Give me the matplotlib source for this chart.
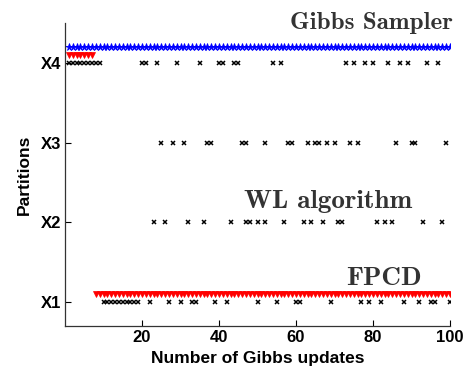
import numpy as np
import matplotlib
matplotlib.use("Agg")
import matplotlib.pyplot as plt

# Gibbs updates 1..100
updates = np.arange(1, 101)

# partition index chosen at each update, per method
gibbs_level = 4.2
fpcd_switch = 8          # FPCD sits near X4 before this update, then near X1
fpcd_high, fpcd_low = 4.1, 1.1

wl_x4 = [1, 2, 3, 4, 5, 6, 7, 8, 9, 20, 21, 24, 29, 35, 40, 41, 44, 45, 54, 56,
         73, 75, 78, 80, 84, 87, 89, 94, 97]
wl_x3 = [25, 28, 31, 37, 38, 46, 47, 52, 58, 59, 63, 65, 66, 68, 70, 74, 76,
         86, 90, 91, 99]
wl_x2 = [23, 26, 32, 36, 43, 47, 48, 50, 52, 57, 62, 64, 67, 71, 72, 81, 83,
         85, 93, 98]
wl_x1 = [10, 11, 12, 13, 14, 15, 16, 17, 18, 19, 22, 27, 30, 33, 34, 39, 42,
         50, 55, 60, 61, 69, 77, 79, 82, 88, 92, 95, 96, 100]

ytick_pos = [1, 2, 3, 4]
ytick_labels = ["X1", "X2", "X3", "X4"]
xtick_pos = [20, 40, 60, 80, 100]

fig = plt.figure(figsize=(4.66, 3.68), dpi=100)
ax = fig.add_axes([0.1395, 0.1141, 0.8262, 0.8234])

# Gibbs sampler stays on the top partition
ax.plot(updates, np.full(len(updates), gibbs_level), linestyle="none",
        marker="*", color="blue", markersize=5.5, markeredgewidth=0.6)

# FPCD
fpcd = np.where(updates < fpcd_switch, fpcd_high, fpcd_low)
ax.plot(updates, fpcd, linestyle="none", marker="v", color="red",
        markersize=4.5, markeredgewidth=0.5)

# WL algorithm visits all partitions
for level, xs in zip(ytick_pos, [wl_x1, wl_x2, wl_x3, wl_x4]):
    ax.plot(xs, np.full(len(xs), level), linestyle="none", marker="x",
            color="black", markersize=3.3, markeredgewidth=1.1)

serif = ["cmb10", "DejaVu Serif"]
ax.text(100.8, 4.425, "Gibbs Sampler", ha="right", va="baseline",
        fontsize=18, family=serif, color="#333333", clip_on=False)
ax.text(90.2, 2.175, "WL algorithm", ha="right", va="baseline",
        fontsize=19.5, family=serif, color="#333333")
ax.text(92.7, 1.21, "FPCD", ha="right", va="baseline",
        fontsize=19.5, family=serif, color="#333333")

ax.set_xlim(0, 100)
ax.set_ylim(0.7, 4.5)
ax.set_xticks(xtick_pos)
ax.set_yticks(ytick_pos)
ax.set_yticklabels(ytick_labels)

sans = ["Liberation Sans", "DejaVu Sans"]
for lab in ax.get_xticklabels() + ax.get_yticklabels():
    lab.set_family(sans)
    lab.set_fontweight("bold")
    lab.set_fontsize(12)

ax.tick_params(direction="in", length=4, width=0.8, pad=3)
ax.spines["top"].set_visible(False)
ax.spines["right"].set_visible(False)
for side in ["left", "bottom"]:
    ax.spines[side].set_linewidth(0.9)
    ax.spines[side].set_color("#333333")

ax.set_xlabel("Number of Gibbs updates", family=sans, fontweight="bold",
              fontsize=12.5, labelpad=4)
ax.set_ylabel("Partitions", family=sans, fontweight="bold", fontsize=12.5,
              labelpad=6)

fig.savefig("out.png", dpi=100)
